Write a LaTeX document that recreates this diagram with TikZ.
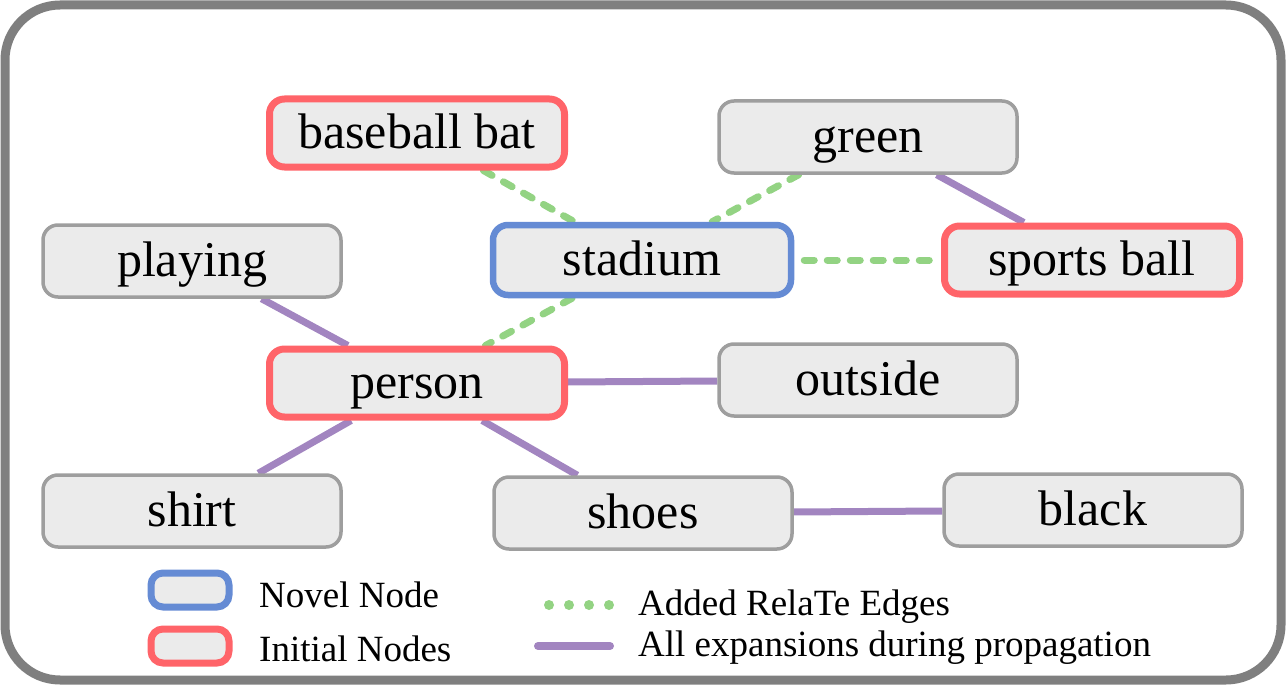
\documentclass[tikz,border=0pt]{standalone}
\usepackage{fontspec}
\setmainfont{Liberation Serif}
\usetikzlibrary{backgrounds}
\definecolor{cred}{HTML}{FF6469}
\definecolor{cblue}{HTML}{658BD4}
\definecolor{cgreen}{HTML}{93D383}
\definecolor{cpurple}{HTML}{A285C0}
\definecolor{cgray}{HTML}{9E9E9E}
\definecolor{cfill}{HTML}{EBEBEB}
\definecolor{cframe}{HTML}{7F7F7F}
\tikzset{
  gnode/.style={draw=cgray, line width=3.5pt, fill=cfill, rounded corners=15pt,
    minimum width=298pt, minimum height=72pt, inner sep=0pt,
    text height=36pt, text depth=6pt, font=\fontsize{50}{60}\selectfont},
  initnode/.style={gnode, draw=cred, line width=7pt, minimum width=295pt, minimum height=68pt},
  novelnode/.style={gnode, draw=cblue, line width=6.5pt, minimum width=298pt, minimum height=70pt},
  relate/.style={draw=cgreen, line width=7pt, line cap=round, dash pattern=on 10pt off 13pt},
  expand/.style={draw=cpurple, line width=7pt},
  legicon/.style={fill=cfill, line width=7pt, rounded corners=12pt, minimum width=78pt, minimum height=34pt, inner sep=0pt},
  legtext/.style={anchor=west, inner sep=0pt, font=\fontsize{37}{44}\selectfont},
}
\begin{document}
\begin{tikzpicture}[x=1pt, y=-1pt]
\useasboundingbox (0,0) rectangle (1286,685);
% nodes
\node[initnode] (bat) at (417,133) {baseball bat};
\node[gnode] (green) at (868,137) {green};
\node[gnode] (playing) at (192,261) {playing};
\node[novelnode] (stadium) at (642,260) {stadium};
\node[initnode] (ball) at (1092,260) {sports ball};
\node[initnode] (person) at (417,383) {person};
\node[gnode] (outside) at (868,380) {outside};
\node[gnode] (shirt) at (192,511) {shirt};
\node[gnode] (shoes) at (643,513) {shoes};
\node[gnode] (black) at (1093,510) {black};
% legend
\node[legicon, draw=cblue] (lnovel) at (190,590) {};
\node[legicon, draw=cred] (linit) at (190,646) {};
\node[legtext] (tnovel) at (259,595) {Novel Node};
\node[legtext] (tinit) at (259,649) {Initial Nodes};
\coordinate (ga) at (549,605);
\coordinate (gb) at (610,605);
\coordinate (pa) at (538,646);
\coordinate (pb) at (610,646);
\node[legtext] (tadded) at (638,607) {Added RelaTe Edges};
\node[legtext] (tall) at (638,648) {All expansions during propagation};
\begin{pgfonlayer}{background}
\draw[cframe, line width=9pt, rounded corners=55pt] (5,5) rectangle (1281,680);
\draw[relate] (bat) -- (stadium);
\draw[relate] (green) -- (stadium);
\draw[relate, shorten <=10pt] (stadium) -- (ball);
\draw[relate] (stadium) -- (person);
\draw[expand] (green) -- (ball);
\draw[expand] (playing) -- (person);
\draw[expand] (person) -- (outside);
\draw[expand] (person) -- (shirt);
\draw[expand] (person) -- (shoes);
\draw[expand] (shoes) -- (black);
\draw[relate, dash pattern=on 0pt off 20pt, line width=10pt] (ga) -- (gb);
\draw[expand, line width=8pt, line cap=round] (pa) -- (pb);
\end{pgfonlayer}
\end{tikzpicture}
\end{document}
